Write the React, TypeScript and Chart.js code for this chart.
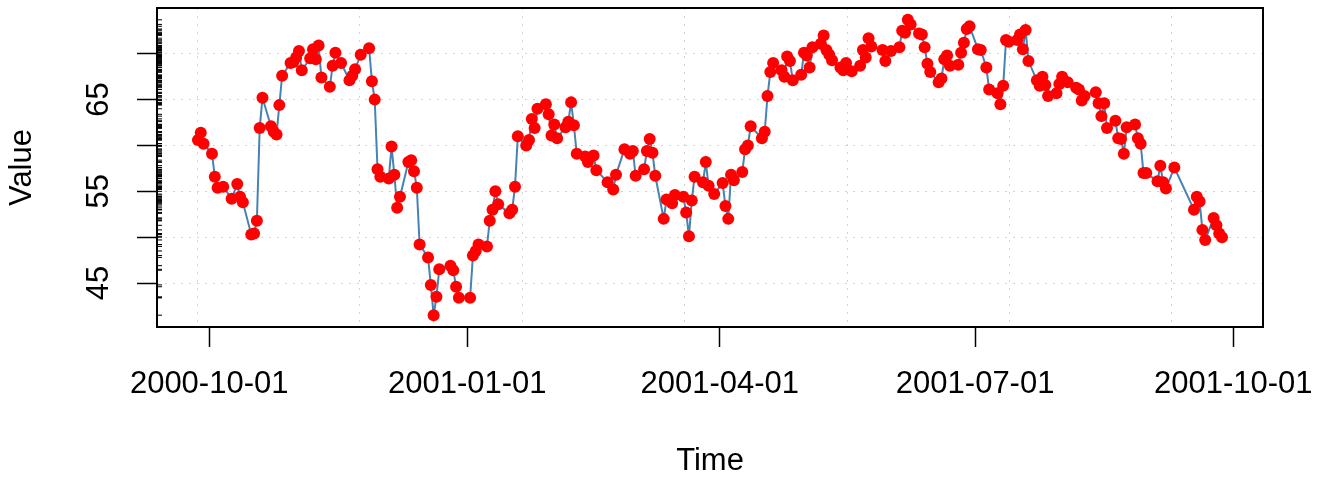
import React, { useEffect, useRef } from 'react';
import { Chart, registerables } from 'chart.js';

Chart.register(...registerables);

const dates: string[] = [
  '2000-09-27', '2000-09-28', '2000-09-29', '2000-10-02', '2000-10-03', '2000-10-04', '2000-10-06', '2000-10-09', '2000-10-11', '2000-10-12',
  '2000-10-13', '2000-10-16', '2000-10-17', '2000-10-18', '2000-10-19', '2000-10-20', '2000-10-23', '2000-10-24', '2000-10-25', '2000-10-26',
  '2000-10-27', '2000-10-30', '2000-10-31', '2000-11-01', '2000-11-02', '2000-11-03', '2000-11-06', '2000-11-07', '2000-11-08', '2000-11-09',
  '2000-11-10', '2000-11-13', '2000-11-14', '2000-11-15', '2000-11-17', '2000-11-20', '2000-11-21', '2000-11-22', '2000-11-24', '2000-11-27',
  '2000-11-28', '2000-11-29', '2000-11-30', '2000-12-01', '2000-12-04', '2000-12-05', '2000-12-06', '2000-12-07', '2000-12-08', '2000-12-11',
  '2000-12-12', '2000-12-13', '2000-12-14', '2000-12-15', '2000-12-18', '2000-12-19', '2000-12-20', '2000-12-21', '2000-12-22', '2000-12-26',
  '2000-12-27', '2000-12-28', '2000-12-29', '2001-01-02', '2001-01-03', '2001-01-04', '2001-01-05', '2001-01-08', '2001-01-09', '2001-01-10',
  '2001-01-11', '2001-01-12', '2001-01-16', '2001-01-17', '2001-01-18', '2001-01-19', '2001-01-22', '2001-01-23', '2001-01-24', '2001-01-25',
  '2001-01-26', '2001-01-29', '2001-01-30', '2001-01-31', '2001-02-01', '2001-02-02', '2001-02-05', '2001-02-06', '2001-02-07', '2001-02-08',
  '2001-02-09', '2001-02-12', '2001-02-13', '2001-02-15', '2001-02-16', '2001-02-20', '2001-02-22', '2001-02-23', '2001-02-26', '2001-02-28',
  '2001-03-01', '2001-03-02', '2001-03-05', '2001-03-06', '2001-03-07', '2001-03-08', '2001-03-09', '2001-03-12', '2001-03-13', '2001-03-15',
  '2001-03-16', '2001-03-19', '2001-03-20', '2001-03-21', '2001-03-22', '2001-03-23', '2001-03-26', '2001-03-27', '2001-03-28', '2001-03-30',
  '2001-04-02', '2001-04-03', '2001-04-04', '2001-04-05', '2001-04-06', '2001-04-09', '2001-04-10', '2001-04-11', '2001-04-12', '2001-04-16',
  '2001-04-17', '2001-04-18', '2001-04-19', '2001-04-20', '2001-04-23', '2001-04-24', '2001-04-25', '2001-04-26', '2001-04-27', '2001-04-30',
  '2001-05-01', '2001-05-02', '2001-05-03', '2001-05-04', '2001-05-07', '2001-05-08', '2001-05-09', '2001-05-10', '2001-05-11', '2001-05-14',
  '2001-05-15', '2001-05-16', '2001-05-18', '2001-05-21', '2001-05-22', '2001-05-23', '2001-05-24', '2001-05-25', '2001-05-29', '2001-05-30',
  '2001-06-01', '2001-06-04', '2001-06-05', '2001-06-06', '2001-06-07', '2001-06-08', '2001-06-11', '2001-06-12', '2001-06-13', '2001-06-14',
  '2001-06-15', '2001-06-18', '2001-06-19', '2001-06-20', '2001-06-21', '2001-06-22', '2001-06-25', '2001-06-26', '2001-06-27', '2001-06-28',
  '2001-06-29', '2001-07-02', '2001-07-03', '2001-07-05', '2001-07-06', '2001-07-09', '2001-07-10', '2001-07-11', '2001-07-12', '2001-07-13',
  '2001-07-16', '2001-07-17', '2001-07-18', '2001-07-19', '2001-07-20', '2001-07-23', '2001-07-24', '2001-07-25', '2001-07-26', '2001-07-27',
  '2001-07-30', '2001-07-31', '2001-08-01', '2001-08-03', '2001-08-06', '2001-08-07', '2001-08-08', '2001-08-09', '2001-08-13', '2001-08-14',
  '2001-08-15', '2001-08-16', '2001-08-17', '2001-08-20', '2001-08-21', '2001-08-22', '2001-08-23', '2001-08-24', '2001-08-27', '2001-08-28',
  '2001-08-29', '2001-08-30', '2001-08-31', '2001-09-04', '2001-09-05', '2001-09-06', '2001-09-07', '2001-09-10', '2001-09-17', '2001-09-18',
  '2001-09-19', '2001-09-20', '2001-09-21', '2001-09-24', '2001-09-25', '2001-09-26', '2001-09-27',
];

const values: number[] = [
  60.6, 61.4, 60.2, 59.1, 56.6, 55.4, 55.5, 54.2, 55.8, 54.4,
  53.8, 50.3, 50.4, 51.8, 61.9, 65.2, 62.1, 61.5, 61.2, 64.4,
  67.6, 69.0, 69.1, 69.6, 70.3, 68.2, 69.5, 70.5, 69.4, 70.9,
  67.4, 66.4, 68.7, 70.1, 69.0, 67.1, 67.6, 68.3, 69.9, 70.6,
  67.0, 65.0, 57.4, 56.6, 56.4, 59.9, 56.8, 53.2, 54.4, 58.2,
  58.4, 57.2, 55.4, 49.2, 47.8, 44.8, 41.5, 43.5, 46.5, 46.9,
  46.4, 44.6, 43.4, 43.4, 48.0, 48.5, 49.2, 49.0, 51.8, 53.0,
  55.0, 53.6, 52.6, 53.0, 55.5, 61.0, 60.0, 60.6, 62.9, 61.9,
  64.0, 64.5, 63.4, 61.1, 62.3, 60.8, 62.0, 62.6, 64.7, 62.2,
  59.1, 58.8, 58.2, 58.9, 57.3, 56.0, 55.2, 56.8, 59.6, 59.1,
  59.4, 56.7, 57.4, 59.4, 60.7, 59.2, 56.7, 52.0, 54.1, 53.7,
  54.6, 54.4, 52.7, 50.1, 54.0, 56.6, 56.0, 58.2, 55.6, 54.7,
  55.9, 53.4, 52.0, 56.8, 56.2, 57.1, 59.6, 60.0, 62.1, 60.8,
  61.5, 65.4, 68.0, 69.0, 68.2, 67.5, 69.7, 69.2, 67.1, 67.7,
  70.1, 69.8, 68.5, 70.7, 71.1, 72.0, 70.4, 69.9, 69.3, 68.5,
  68.2, 69.0, 68.1, 68.7, 70.4, 69.6, 71.7, 70.8, 70.4, 69.2,
  70.3, 70.7, 72.5, 72.3, 73.7, 73.2, 72.2, 72.1, 70.7, 68.9,
  68.0, 66.9, 67.3, 69.4, 69.8, 68.7, 68.8, 70.1, 71.2, 72.7,
  73.0, 70.5, 70.4, 68.5, 66.1, 65.7, 64.5, 66.5, 71.5, 71.3,
  71.5, 72.1, 70.5, 72.6, 69.2, 67.1, 66.5, 67.5, 66.6, 65.4,
  65.7, 66.7, 67.5, 66.9, 66.3, 66.1, 64.9, 65.4, 65.8, 64.6,
  63.2, 64.6, 61.9, 62.7, 60.8, 60.7, 59.1, 62.0, 62.3, 60.8,
  60.2, 57.0, 57.0, 56.1, 57.8, 56.0, 55.3, 57.6, 53.0, 54.4,
  53.9, 50.8, 49.7, 52.1, 51.3, 50.4, 50.0,
];

const xTickLabels: string[] = ['2000-10-01', '2001-01-01', '2001-04-01', '2001-07-01', '2001-10-01'];
const yTicks: number[] = [45, 50, 55, 60, 65, 70];
const yTickLabels: string[] = ['45', '', '55', '', '65', ''];
// vertical grid lines (R grid() on a POSIXct axis: every 5e6 seconds)
const xGridSeconds: number[] = [970e6, 975e6, 980e6, 985e6, 990e6, 995e6, 1000e6];

const FONT = "'Liberation Sans', Arial, Helvetica, sans-serif";

const toDay = (s: string): number => {
  const [y, m, d] = s.split('-').map(Number);
  return Date.UTC(y, m - 1, d) / 86400000;
};

const boxPlugin = {
  id: 'plotBox',
  afterDatasetsDraw(chart: any) {
    const { ctx, chartArea: a } = chart;
    ctx.save();
    ctx.strokeStyle = '#000';
    ctx.lineWidth = 2;
    ctx.strokeRect(a.left, a.top, a.right - a.left, a.bottom - a.top);
    ctx.restore();
  },
};

export default function App() {
  const ref = useRef<HTMLCanvasElement | null>(null);

  useEffect(() => {
    document.body.style.margin = '0';
    document.body.style.background = '#fff';
    const canvas = ref.current;
    if (!canvas) return;

    const xs = dates.map(toDay);
    const xMin = Math.min(...xs);
    const xMax = Math.max(...xs);
    const xLo = xMin - 0.04 * (xMax - xMin);
    const xHi = xMax + 0.04 * (xMax - xMin);
    const yMin = Math.min(...values);
    const yMax = Math.max(...values);
    const yLo = yMin - 0.04 * (yMax - yMin);
    const yHi = yMax + 0.04 * (yMax - yMin);

    const chart = new Chart(canvas, {
      type: 'line',
      data: {
        datasets: [
          {
            data: xs.map((x, i) => ({ x, y: values[i] })),
            xAxisID: 'x',
            yAxisID: 'y',
            borderColor: '#4682B4',
            borderWidth: 2,
            pointRadius: 6,
            pointHoverRadius: 6,
            pointBackgroundColor: '#FF0000',
            pointBorderWidth: 0,
            tension: 0,
            fill: false,
          } as any,
          {
            type: 'scatter',
            data: values.map((v) => ({ x: xLo, y: v })),
            xAxisID: 'x',
            yAxisID: 'y',
            pointStyle: 'line',
            pointRadius: 5,
            pointHoverRadius: 5,
            pointBorderColor: '#000',
            pointBorderWidth: 1,
            showLine: false,
            clip: 0,
          } as any,
        ],
      },
      options: {
        responsive: false,
        animation: false,
        events: [],
        layout: { padding: { left: 0, right: 63, top: 8, bottom: 0 } },
        plugins: {
          legend: { display: false },
          tooltip: { enabled: false },
        },
        scales: {
          x: {
            type: 'linear',
            position: 'bottom',
            min: xLo,
            max: xHi,
            afterBuildTicks: (s: any) => {
              s.ticks = xTickLabels.map((l) => ({ value: toDay(l) }));
            },
            ticks: {
              callback: (_v: any, i: number) => xTickLabels[i],
              font: { family: FONT, size: 31 },
              color: '#000',
              padding: 19,
              minRotation: 0,
              maxRotation: 0,
              autoSkip: false,
            },
            grid: {
              drawOnChartArea: false,
              drawTicks: true,
              tickLength: 20,
              tickColor: '#000',
              tickWidth: 1.5,
            },
            border: { display: false },
            title: {
              display: true,
              text: 'Time',
              font: { family: FONT, size: 31, lineHeight: 1 },
              color: '#000',
              padding: { top: 0, bottom: 0 },
            },
            afterFit: (s: any) => {
              s.height = 150;
              s.paddingLeft = 0;
              s.paddingRight = 0;
            },
          },
          xg: {
            type: 'linear',
            position: 'top',
            min: xLo,
            max: xHi,
            afterBuildTicks: (s: any) => {
              s.ticks = xGridSeconds.map((sec) => ({ value: sec / 86400 }));
            },
            ticks: { display: false },
            grid: { drawTicks: false, color: '#D3D3D3', lineWidth: 1 },
            border: { display: false, dash: [2, 6] },
            afterFit: (s: any) => {
              s.height = 0;
              s.paddingLeft = 0;
              s.paddingRight = 0;
            },
          },
          y: {
            type: 'linear',
            position: 'left',
            min: yLo,
            max: yHi,
            afterBuildTicks: (s: any) => {
              s.ticks = yTicks.map((v) => ({ value: v }));
            },
            ticks: {
              callback: (_v: any, i: number) => yTickLabels[i],
              font: { family: FONT, size: 31 },
              color: '#000',
              padding: 20,
              minRotation: 90,
              maxRotation: 90,
              crossAlign: 'center',
              autoSkip: false,
            },
            grid: {
              color: '#D3D3D3',
              lineWidth: 1,
              tickLength: 20,
              tickColor: '#000',
              tickWidth: 1.5,
              tickBorderDash: [],
            },
            border: { display: false, dash: [2, 6] },
            title: {
              display: true,
              text: 'Value',
              font: { family: FONT, size: 31, lineHeight: 1 },
              color: '#000',
              padding: { top: 7, bottom: 0 },
            },
            afterFit: (s: any) => {
              s.width = 157;
              s.paddingTop = 0;
              s.paddingBottom = 0;
            },
          },
        },
      } as any,
      plugins: [boxPlugin],
    });

    return () => chart.destroy();
  }, []);

  return (
    <div style={{ width: 1326, height: 477, background: '#fff' }}>
      <canvas ref={ref} width={1326} height={477} style={{ width: 1326, height: 477, display: 'block' }} />
    </div>
  );
}
